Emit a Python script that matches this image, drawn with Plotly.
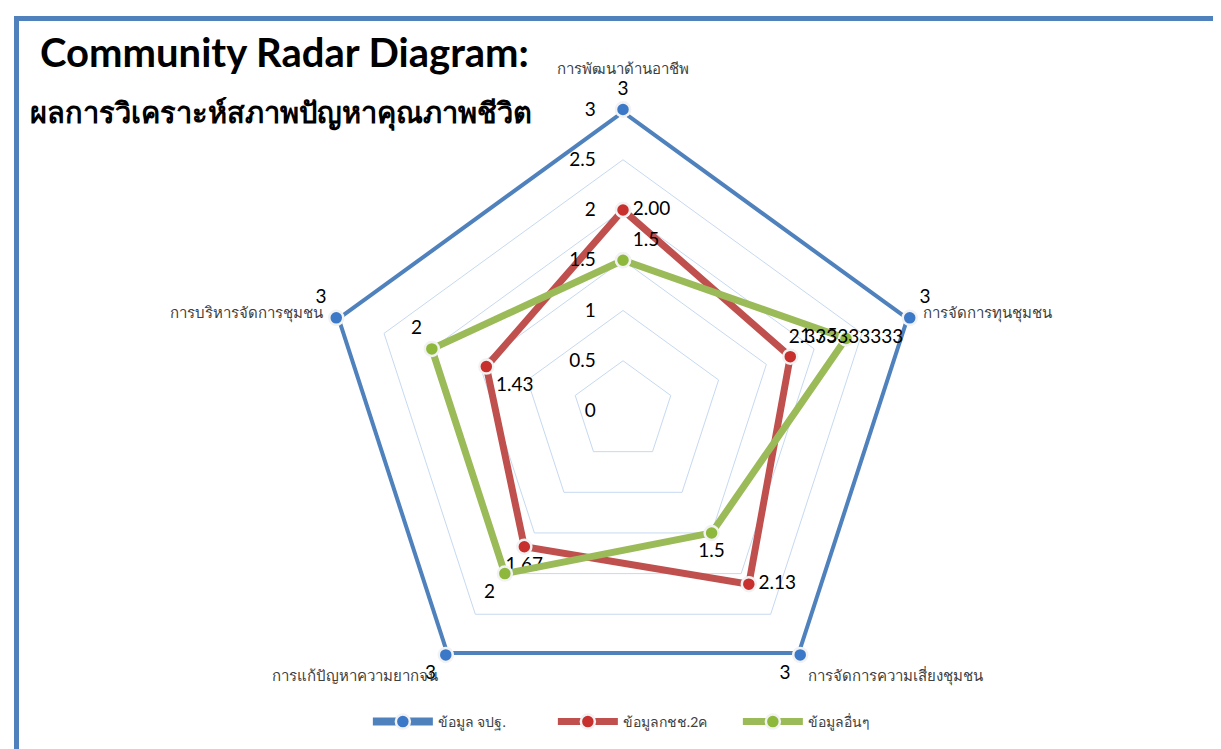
import plotly.graph_objects as go

# ---- data ----
categories = ["การพัฒนาด้านอาชีพ", "การจัดการทุนชุมชน", "การจัดการความเสี่ยงชุมชน",
              "การแก้ปัญหาความยากจน", "การบริหารจัดการชุมชน"]
series_names = ["ข้อมูล จปฐ.", "ข้อมูลกชช.2ค", "ข้อมูลอื่นๆ"]
jpt = [3, 3, 3, 3, 3]
kchch = [2.00, 1.75, 2.13, 1.67, 1.43]
other = [1.5, 2.333333333, 1.5, 2, 2]
jpt_labels = ["3", "3", "3", "3", "3"]
kchch_labels = ["2.00", "1.75", "2.13", "1.67", "1.43"]
other_labels = ["1.5", "2.333333333", "1.5", "2", "2"]
radial_ticks = [0, 0.5, 1, 1.5, 2, 2.5, 3]
radial_tick_text = ["0", "0.5", "1", "1.5", "2", "2.5", "3"]

title_text = "Community Radar Diagram:"
subtitle_text = "ผลการวิเคราะห์สภาพปัญหาคุณภาพชีวิต"

# ---- styles ----
W, H = 1221, 749
colors = ["#4F81BD", "#C0504D", "#9BBB59"]
marker_colors = ["#3C78C8", "#C8302E", "#8DB83C"]
widths = [8, 7, 7]
label_pos = [
    ["top center", "top right", "bottom left", "bottom left", "top left"],
    ["middle right", "top right", "middle right", "bottom center", "bottom right"],
    ["top right", "middle center", "bottom center", "bottom left", "top left"],
]
FONT = "Lato, 'Noto Sans', 'DejaVu Sans', sans-serif"

# top category label is lifted above its data label with an empty line below it
cat_ticktext = [categories[0] + "<br> "] + categories[1:]


def closed(vals):
    return list(vals) + [vals[0]]


fig = go.Figure()
for name, vals, labels, col, mcol, w, pos in zip(
        series_names, [jpt, kchch, other], [jpt_labels, kchch_labels, other_labels],
        colors, marker_colors, widths, label_pos):
    fig.add_trace(go.Scatterpolar(
        r=closed(vals),
        theta=closed(categories),
        text=labels + [""],
        mode="lines+markers+text",
        name=name,
        line=dict(color=col, width=w),
        marker=dict(size=14, color=mcol, line=dict(color="#F2F2F2", width=2.5)),
        textposition=pos + ["middle center"],
        textfont=dict(family=FONT, size=19, color="#000000"),
        cliponaxis=False,
    ))

fig.update_layout(
    width=W, height=H,
    margin=dict(l=0, r=0, t=0, b=0, autoexpand=False),
    paper_bgcolor="white",
    plot_bgcolor="white",
    showlegend=True,
    legend=dict(orientation="h", x=0.522, xanchor="center", y=1 - 714 / H, yanchor="middle",
                font=dict(family=FONT, size=14, color="#404040"),
                itemwidth=60, traceorder="normal", entrywidth=110),
    polar=dict(
        domain=dict(x=[313.5 / W, 916.5 / W], y=[1 - 704.5 / H, 1 - 101.5 / H]),
        gridshape="linear",
        bgcolor="rgba(0,0,0,0)",
        radialaxis=dict(
            range=[0, 3], tickvals=radial_ticks, ticktext=radial_tick_text,
            angle=90, tickangle=90, side="counterclockwise",
            showline=False, ticks="outside", ticklen=20, tickcolor="rgba(0,0,0,0)",
            gridcolor="#C6D9F1", gridwidth=1,
            tickfont=dict(family=FONT, size=19, color="#000000"),
        ),
        angularaxis=dict(
            rotation=90, direction="clockwise", showgrid=False, showline=False,
            tickmode="array", tickvals=categories, ticktext=cat_ticktext,
            ticks="outside", ticklen=10, tickcolor="rgba(0,0,0,0)",
            tickfont=dict(family=FONT, size=15, color="#404040"),
        ),
    ),
    annotations=[
        dict(text="<b>" + title_text + "</b>", x=30 / W, y=1 - 44 / H,
             xref="paper", yref="paper", xanchor="left", yanchor="middle", showarrow=False,
             font=dict(family=FONT, size=40, color="#000000")),
        dict(text="<b>" + subtitle_text + "</b>", x=20 / W, y=1 - 104 / H,
             xref="paper", yref="paper", xanchor="left", yanchor="middle", showarrow=False,
             font=dict(family=FONT, size=29, color="#000000")),
    ],
    shapes=[
        dict(type="rect", xref="paper", yref="paper",
             x0=8.5 / W, x1=1217 / W, y0=-0.05, y1=1 - 10.5 / H,
             line=dict(color="#4F81BD", width=5), layer="below"),
    ],
)

fig.write_html("out.html")
